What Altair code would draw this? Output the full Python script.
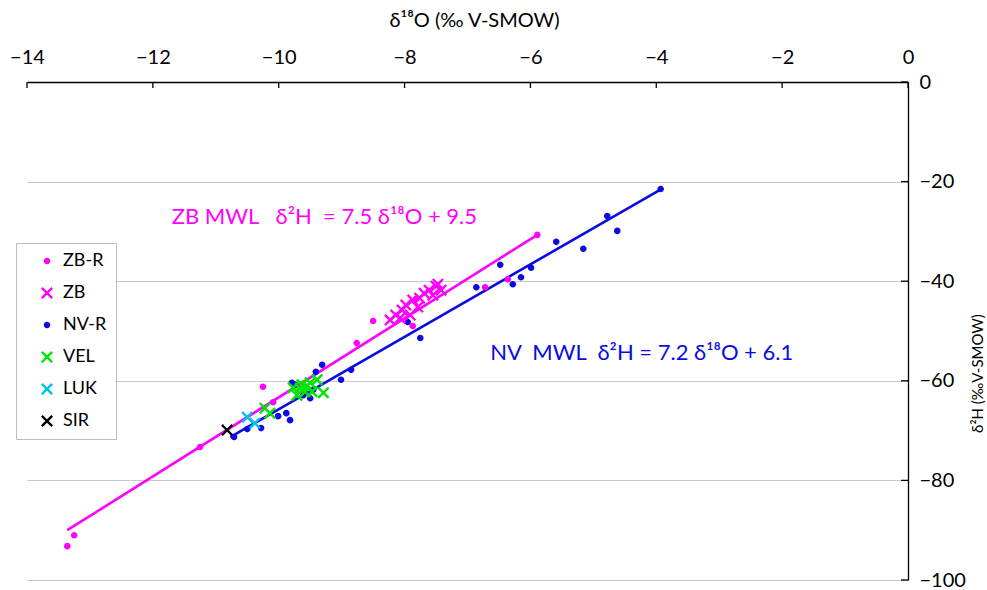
import altair as alt
import pandas as pd

FONT = "Lato"
NB = "\u00a0"

# ---- data ----
zbr_x = [-13.36, -13.25, -11.25, -10.25, -10.09, -8.76, -8.50, -7.87, -7.82, -6.72, -6.36, -5.89]
zbr_y = [-93.2, -91.0, -73.3, -61.2, -64.3, -52.4, -48.0, -49.0, -43.6, -41.2, -39.6, -30.7]

zb_x = [-8.23, -8.14, -8.04, -7.98, -7.91, -7.87, -7.79, -7.69, -7.61, -7.55, -7.50, -7.42, -7.47, -7.76, -8.07]
zb_y = [-47.8, -46.8, -45.8, -44.8, -46.8, -43.8, -45.2, -42.4, -41.8, -42.8, -41.0, -41.8, -40.6, -43.4, -47.4]

nvr_x = [-3.93, -4.78, -4.62, -5.16, -5.59, -6.48, -5.99, -6.15, -6.28, -6.86, -7.95, -7.75, -8.85, -9.01,
         -9.31, -9.41, -9.50, -9.45, -9.79, -10.01, -9.88, -9.82, -10.28, -10.50, -10.71, -9.61, -9.74]
nvr_y = [-21.5, -26.9, -29.9, -33.5, -32.1, -36.7, -37.3, -39.2, -40.6, -41.2, -48.2, -51.4, -57.8, -59.8,
         -56.8, -58.2, -63.5, -61.8, -60.4, -67.1, -66.5, -67.9, -69.5, -69.7, -71.3, -62.9, -60.8]

vel_x = [-9.29, -9.77, -9.63, -9.50, -9.71, -9.58, -9.47, -9.39, -10.22, -10.14, -9.66, -9.55]
vel_y = [-62.4, -61.4, -60.8, -60.4, -62.9, -62.2, -62.2, -59.8, -65.5, -66.5, -61.5, -61.0]

luk_x = [-10.50, -10.38]
luk_y = [-67.3, -68.5]

sir_x = [-10.82]
sir_y = [-69.9]

zb_line_x = [-13.36, -5.89]
zb_line_y = [-90.0, -30.7]
nv_line_x = [-10.77, -3.92]
nv_line_y = [-71.3, -21.5]

x_ticks = [-14, -12, -10, -8, -6, -4, -2, 0]
y_ticks = [-100, -80, -60, -40, -20, 0]

series_order = ["ZB-R", "ZB", "NV-R", "VEL", "LUK", "SIR"]

ann_text = ["ZB MWL" + NB * 3 + "δ²H" + NB * 2 + "= 7.5 δ¹⁸O + 9.5",
            "NV" + NB * 2 + "MWL" + NB * 2 + "δ²H = 7.2 δ¹⁸O + 6.1"]
ann_x = [-11.70, -6.64]
ann_y = [-27.1, -54.4]

# ---- styles ----
MAGENTA = "#ff00ff"
BLUE = "#0a0ae6"
series_colors = [MAGENTA, MAGENTA, BLUE, "#00e600", "#00c0f0", "#000000"]
CIRCLE = "M-0.55,0A0.55,0.55 0 1,0 0.55,0A0.55,0.55 0 1,0 -0.55,0Z"
XSHAPE = ("M-1,-0.72L-0.72,-1L0,-0.28L0.72,-1L1,-0.72L0.28,0L1,0.72L0.72,1"
          "L0,0.28L-0.72,1L-1,0.72L-0.28,0Z")
series_shapes = [CIRCLE, XSHAPE, CIRCLE, XSHAPE, XSHAPE, XSHAPE]

# ---- tables ----
draw_order = [("NV-R", nvr_x, nvr_y), ("ZB-R", zbr_x, zbr_y), ("ZB", zb_x, zb_y),
              ("VEL", vel_x, vel_y), ("LUK", luk_x, luk_y), ("SIR", sir_x, sir_y)]
rows = []
for name, xs, ys in draw_order:
    for a, b in zip(xs, ys):
        rows.append({"series": name, "x": a, "y": b})
points_df = pd.DataFrame(rows)
zb_line_df = pd.DataFrame({"x": zb_line_x, "y": zb_line_y})
nv_line_df = pd.DataFrame({"x": nv_line_x, "y": nv_line_y})
xt_df = pd.DataFrame({"x": x_ticks})
yt_df = pd.DataFrame({"y": y_ticks})
ann_df = pd.DataFrame({"x": ann_x, "y": ann_y, "t": ann_text})

xscale = alt.Scale(domain=[-14, 0], nice=False, zero=False)
yscale = alt.Scale(domain=[-100, 0], nice=False, zero=False)

xaxis = alt.Axis(orient="top", values=x_ticks, tickSize=0, labelPadding=15, labelFontSize=20,
                 labelFont=FONT, labelColor="black", labelFlush=False, labelOverlap=False,
                 title="δ¹⁸O (‰ V-SMOW)", titleFont=FONT, titleFontSize=20,
                 titleFontWeight="normal", titleColor="black",
                 titleX=447, titleY=-62, titleAlign="center", titleBaseline="middle",
                 grid=False, domainColor="black", domainWidth=1.3)
yaxis = alt.Axis(orient="right", values=y_ticks, tickSize=0, labelPadding=11, labelFontSize=20,
                 labelFont=FONT, labelColor="black", labelFlush=False, labelOverlap=False,
                 title="δ²H (‰V-SMOW)", titleFont=FONT, titleFontSize=15,
                 titleFontWeight="normal", titleColor="black", titleAngle=270,
                 titleX=69, titleY=291, titleAlign="center", titleBaseline="middle",
                 grid=True, gridColor="#c8c8c8", gridWidth=1.2,
                 domainColor="black", domainWidth=1.3)

X = alt.X("x:Q", scale=xscale, axis=xaxis)
Y = alt.Y("y:Q", scale=yscale, axis=yaxis)

legend_kw = dict(title=None, orient="none", legendX=-11, legendY=161, padding=9,
                 rowPadding=14, labelFontSize=18, labelFont=FONT, labelColor="black",
                 symbolSize=144, symbolOffset=13, labelOffset=7, symbolStrokeWidth=0,
                 strokeColor="#bdbdbd", fillColor="white", cornerRadius=0)

zb_line = alt.Chart(zb_line_df).mark_line(color=MAGENTA, strokeWidth=2.6).encode(x=X, y=Y)
nv_line = alt.Chart(nv_line_df).mark_line(color=BLUE, strokeWidth=2.6).encode(x=X, y=Y)

xticks = alt.Chart(xt_df).mark_rule(color="black", strokeWidth=1.3).encode(
    x=X, y=alt.value(0), y2=alt.value(6))
yticks = alt.Chart(yt_df).mark_rule(color="black", strokeWidth=1.3).encode(
    y=Y, x=alt.value(874), x2=alt.value(881))

pts = alt.Chart(points_df).mark_point(filled=True, size=144, opacity=1, strokeWidth=0).encode(
    x=X, y=Y,
    color=alt.Color("series:N", scale=alt.Scale(domain=series_order, range=series_colors),
                    legend=alt.Legend(**legend_kw)),
    shape=alt.Shape("series:N", scale=alt.Scale(domain=series_order, range=series_shapes),
                    legend=alt.Legend(**legend_kw)),
)

ann_zb = alt.Chart(ann_df.iloc[[0]]).mark_text(
    align="left", baseline="middle", fontSize=22, font=FONT, color=MAGENTA).encode(
    x=X, y=Y, text="t:N")
ann_nv = alt.Chart(ann_df.iloc[[1]]).mark_text(
    align="left", baseline="middle", fontSize=22, font=FONT, color=BLUE).encode(
    x=X, y=Y, text="t:N")

chart = alt.layer(zb_line, nv_line, xticks, yticks, pts, ann_zb, ann_nv).properties(
    width=881, height=498,
    padding={"left": 27, "top": 82, "right": 79, "bottom": 10},
    autosize=alt.AutoSizeParams(type="none"),
    background="white",
).configure_view(stroke=None)

chart.save("out.html", embed_options={"renderer": "svg", "actions": False})
